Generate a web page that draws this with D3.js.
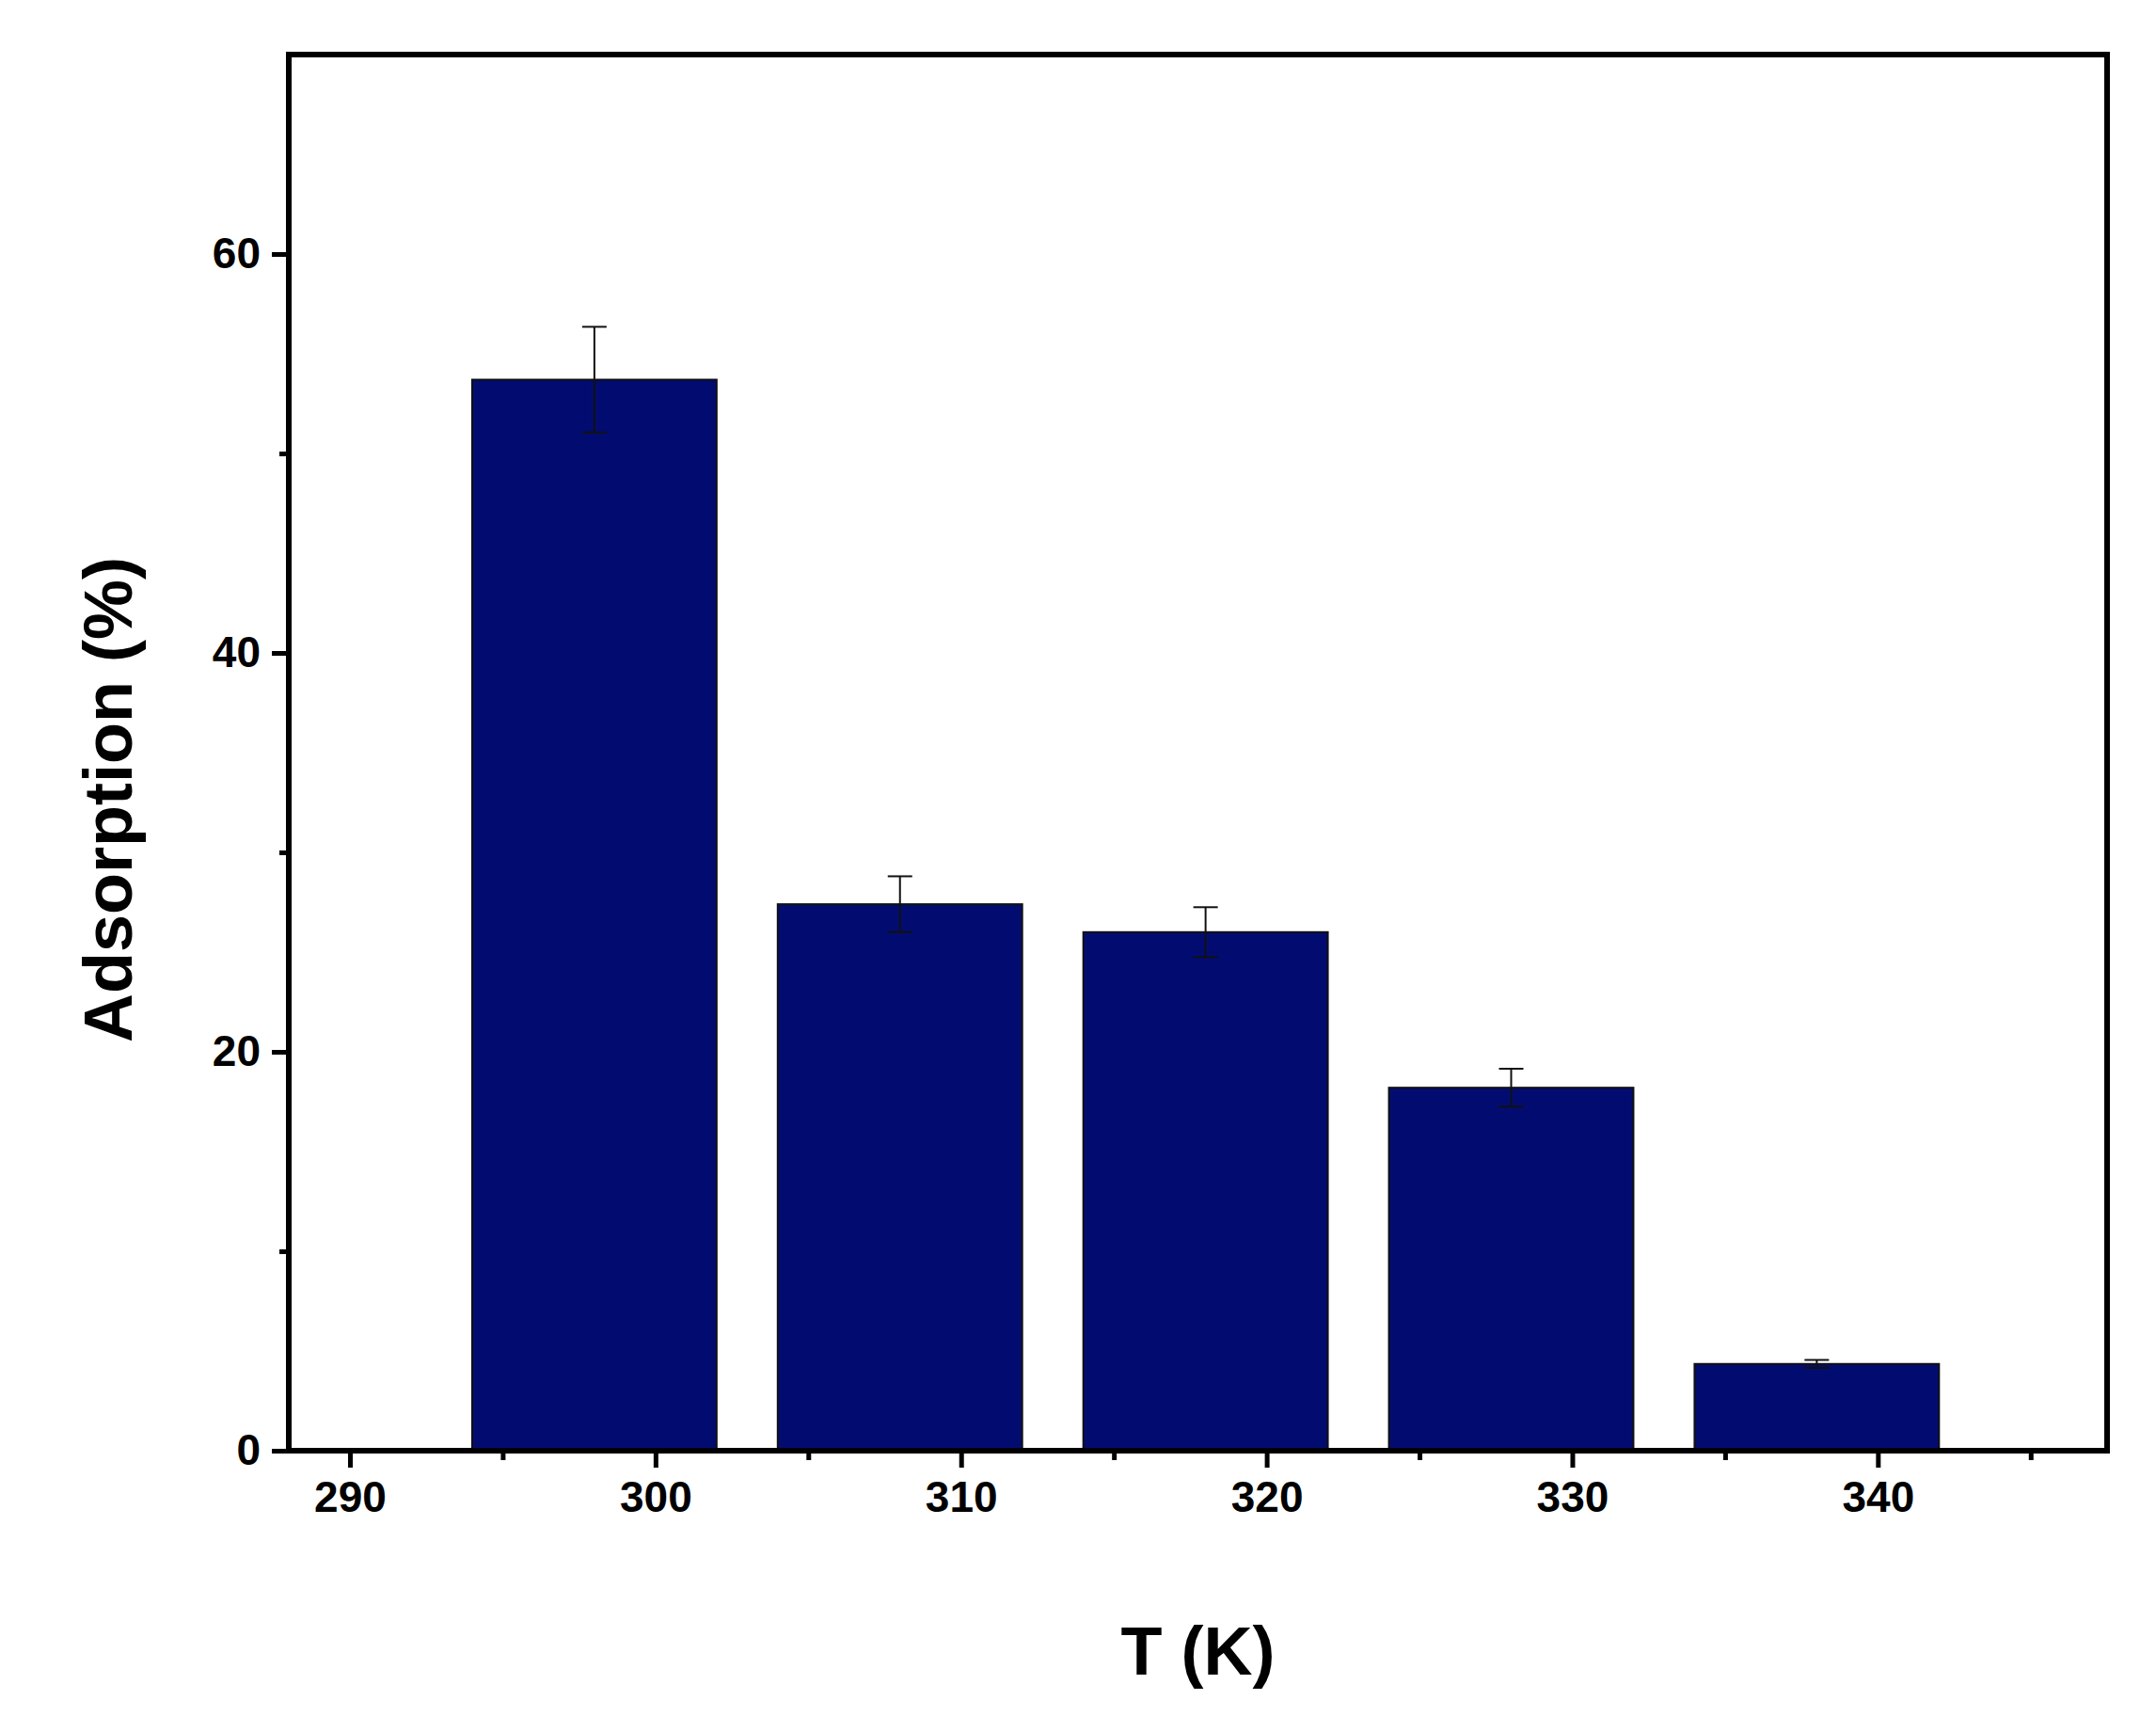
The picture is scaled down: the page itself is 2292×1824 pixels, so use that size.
<!DOCTYPE html>
<html><head><meta charset="utf-8">
<script src="https://cdn.jsdelivr.net/npm/d3@7"></script>
<style>body{margin:0;background:#fff}</style></head>
<body><svg id="c" width="2292" height="1824"></svg>
<script>
const temps=[298,308,318,328,338];
const adsorption=[53.7,27.4,26.0,18.2,4.35];
const errors=[2.65,1.4,1.25,0.95,0.2];
const xTicks=[290,300,310,320,330,340];
const yTicks=[0,20,40,60];

const svg=d3.select("#c");
const L=307,R=2240,T=58,B=1542;
const x=d3.scaleLinear().domain([288,347.5]).range([L,R]);
const y=d3.scaleLinear().domain([0,70]).range([B,T]);
const bw=x(8)-x(0);
const font="'Liberation Sans',Arial,sans-serif";

svg.selectAll("rect.bar").data(temps).enter().append("rect")
 .attr("x",d=>x(d)-bw/2).attr("width",bw)
 .attr("y",(d,i)=>y(adsorption[i])).attr("height",(d,i)=>B-y(adsorption[i]))
 .attr("fill","#020c70").attr("stroke","#111").attr("stroke-width",2);

const eb=svg.append("g").attr("stroke","#111").attr("stroke-width",2);
temps.forEach((t,i)=>{
 const hi=y(adsorption[i]+errors[i]),lo=y(adsorption[i]-errors[i]),cx=x(t);
 eb.append("line").attr("x1",cx).attr("x2",cx).attr("y1",hi).attr("y2",lo);
 eb.append("line").attr("x1",cx-13).attr("x2",cx+13).attr("y1",hi).attr("y2",hi);
 eb.append("line").attr("x1",cx-13).attr("x2",cx+13).attr("y1",lo).attr("y2",lo);
});

const xa=svg.append("g").attr("transform",`translate(0,${B})`)
 .call(d3.axisBottom(x).tickValues(xTicks).tickSize(18).tickPadding(14));
const xm=svg.append("g").attr("transform",`translate(0,${B})`)
 .call(d3.axisBottom(x).tickValues([295,305,315,325,335,345]).tickSize(10).tickFormat(""));
const ya=svg.append("g").attr("transform",`translate(${L},0)`)
 .call(d3.axisLeft(y).tickValues(yTicks).tickSize(18).tickPadding(12));
const ym=svg.append("g").attr("transform",`translate(${L},0)`)
 .call(d3.axisLeft(y).tickValues([10,30,50]).tickSize(10).tickFormat(""));
[xa,xm,ya,ym].forEach(g=>{g.select(".domain").remove();
 g.selectAll("line").attr("stroke","#000").attr("stroke-width",5);
 g.selectAll("text").attr("font-family",font).attr("font-weight","bold").attr("font-size",46).attr("fill","#000");});

svg.append("rect").attr("x",L).attr("y",T).attr("width",R-L).attr("height",B-T)
 .attr("fill","none").attr("stroke","#000").attr("stroke-width",6);

svg.append("text").attr("x",(L+R)/2).attr("y",1780).attr("text-anchor","middle")
 .attr("font-family",font).attr("font-weight","bold").attr("font-size",72).text("T (K)");
svg.append("text").attr("transform",`translate(140,${(T+B)/2+50}) rotate(-90)`).attr("text-anchor","middle")
 .attr("font-family",font).attr("font-weight","bold").attr("font-size",72).text("Adsorption (%)");
</script></body></html>
